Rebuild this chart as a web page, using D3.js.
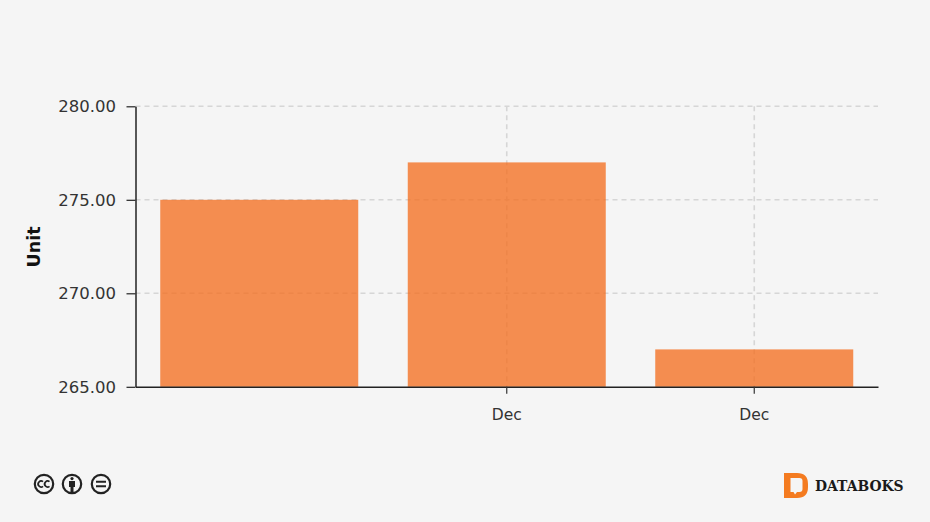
<!DOCTYPE html>
<html><head><meta charset="utf-8">
<script src="https://cdn.jsdelivr.net/npm/d3@7"></script>
<style>
html,body{margin:0;padding:0;background:#f5f5f5;overflow:hidden}
svg{display:block}
text{font-family:"DejaVu Sans",sans-serif}
</style></head><body>
<svg id="c" width="930" height="522"></svg>
<script>
const categories = ["a", "b", "c"];
const tickLabels = ["", "Dec", "Dec"];
const values = [275, 277, 267];
const yTicks = [265, 270, 275, 280];
const yTitle = "Unit";
const brand = "DATABOKS";

const svg = d3.select("#c");
const plotLeft = 135.5, plotRight = 878, plotTop = 106.3, plotBottom = 386.8;
const x = d3.scaleBand().domain(categories).range([plotLeft, plotRight]).paddingInner(0.2).paddingOuter(0.1);
const y = d3.scaleLinear().domain([265, 280]).range([plotBottom, plotTop]);
const cx = c => x(c) + x.bandwidth() / 2;
const labelled = categories.filter((c, i) => tickLabels[i] !== "");

svg.append("rect").attr("width", 930).attr("height", 522).attr("fill", "#f5f5f5");

// grid, drawn under the translucent bars
const grid = svg.append("g").attr("stroke", "#d6d6d6").attr("stroke-width", 1.6).attr("stroke-dasharray", "5 4");
grid.selectAll(".h").data(yTicks.slice(1)).join("line").attr("class", "h")
  .attr("x1", plotLeft).attr("x2", plotRight).attr("y1", d => y(d)).attr("y2", d => y(d));
grid.selectAll(".v").data(labelled).join("line").attr("class", "v")
  .attr("x1", d => cx(d)).attr("x2", d => cx(d)).attr("y1", plotTop).attr("y2", plotBottom);

// bars
svg.append("g").selectAll("rect").data(values).join("rect")
  .attr("x", (d, i) => x(categories[i]))
  .attr("width", x.bandwidth())
  .attr("y", d => y(d))
  .attr("height", d => plotBottom - y(d))
  .attr("fill", "#f37021").attr("fill-opacity", 0.78);

// y axis
const yAxis = svg.append("g").attr("transform", `translate(${plotLeft},0)`)
  .call(d3.axisLeft(y).tickValues(yTicks).tickFormat(d3.format(".2f")).tickSize(9).tickSizeOuter(0).tickPadding(10.5));
yAxis.select(".domain").attr("stroke", "#222").attr("stroke-width", 1.5);
yAxis.selectAll(".tick line").attr("stroke", "#222").attr("stroke-width", 1.2);
yAxis.selectAll("text").attr("font-size", 16.5).attr("fill", "#333").style("font-family", "DejaVu Sans");

// x axis
const xAxis = svg.append("g").attr("transform", `translate(0,${plotBottom})`)
  .call(d3.axisBottom(x).tickValues(labelled).tickFormat(c => tickLabels[categories.indexOf(c)]).tickSize(7).tickSizeOuter(0).tickPadding(15.5));
xAxis.select(".domain").attr("stroke", "#222").attr("stroke-width", 1.5);
xAxis.selectAll(".tick line").attr("stroke", "#333").attr("stroke-width", 1.2);
xAxis.selectAll("text").attr("font-size", 15.5).attr("fill", "#333").style("font-family", "DejaVu Sans");

// y title
svg.append("text").attr("transform", "translate(40,247) rotate(-90)").attr("text-anchor", "middle")
  .attr("font-size", 17.5).attr("font-weight", 700).attr("fill", "#111").text(yTitle);

// licence icons
const ic = svg.append("g").attr("fill", "none").attr("stroke", "#222");
[44, 72, 101].forEach(px => ic.append("circle").attr("cx", px).attr("cy", 484).attr("r", 9.2).attr("stroke-width", 2.2));
ic.append("path").attr("stroke-width", 1.8).attr("d", "M43 481.6a3 3 0 1 0 0 4.8M49.5 481.6a3 3 0 1 0 0 4.8");
ic.append("circle").attr("cx", 72).attr("cy", 478.6).attr("r", 1.6).attr("fill", "#222").attr("stroke", "none");
ic.append("path").attr("fill", "#222").attr("stroke", "none").attr("d", "M69 481h6v6h-1.5v5h-3v-5H69z");
ic.append("path").attr("stroke-width", 2).attr("d", "M96 481.8h10M96 486.2h10");

// brand mark
svg.append("path").attr("fill", "#f47b20").attr("fill-rule", "evenodd")
  .attr("d", "M784 473h13q11 0 11 11v3q0 11-11 11h-13zM790.500 478v14h3l1.500 2.500 2-2.500h2.500q3 0 3-3v-8q0-3-3-3z");
svg.append("text").attr("x", 815).attr("y", 491).attr("font-size", 13.9).attr("font-weight", 700)
  .style("font-family", "DejaVu Serif").attr("fill", "#1a1a1a").text(brand);
</script>
</body></html>
